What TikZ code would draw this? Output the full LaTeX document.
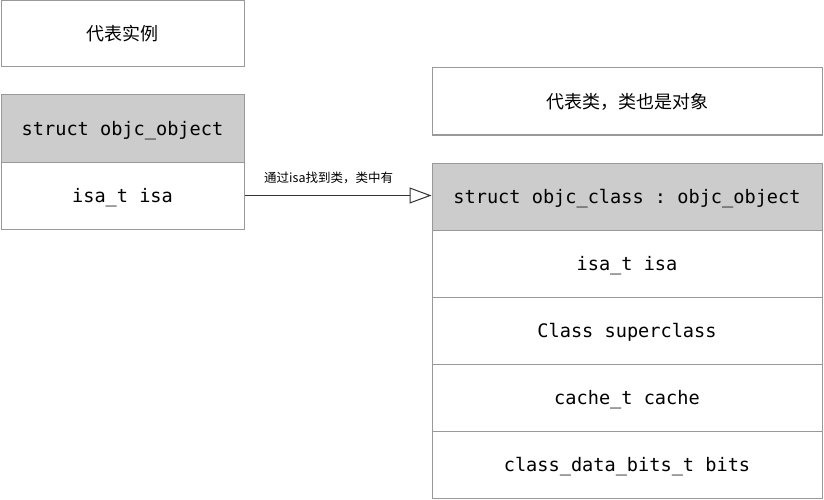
\documentclass[tikz,border=0pt]{standalone}
\usepackage{fontspec}
\setmainfont{Noto Sans CJK SC}
\setmonofont{DejaVu Sans Mono}
\newfontfamily\cjk{Noto Sans CJK SC}
\usetikzlibrary{arrows.meta}
\definecolor{bordergray}{HTML}{999999}
\definecolor{fillgray}{HTML}{CCCCCC}
\definecolor{linegray}{HTML}{333333}
\begin{document}
\begin{tikzpicture}[x=1pt,y=-1pt,
  box/.style={draw=bordergray, line width=1pt, fill=white, minimum height=67pt, inner sep=0pt, anchor=center},
  lbox/.style={box, minimum width=243pt},
  rbox/.style={box, minimum width=390pt},
  hdr/.style={fill=fillgray},
  mono/.style={font=\fontsize{18.6}{22}\ttfamily, text height=14pt, text depth=0pt},
  cn/.style={font=\fontsize{18}{22}\cjk},
  conn/.style={draw=linegray, line width=1pt, -{Triangle[open, length=22pt, width=16pt, line width=1pt]}}
]
\useasboundingbox (0,0) rectangle (824,500);
% left column
\node[lbox, cn, minimum height=66pt] (inst) at (122.5,34) {代表实例};
\node[lbox, hdr, mono] (obj) at (122.5,128.5) {struct objc\_object};
\node[lbox, mono] (objisa) at (122.5,195.5) {isa\_t isa};
% right column
\node[rbox, cn] (clsdesc) at (627,101.5) {代表类，类也是对象};
\node[rbox, hdr, mono] (cls) at (627,196.5) {struct objc\_class : objc\_object};
\node[rbox, mono] (clsisa) at (627,263.5) {isa\_t isa};
\node[rbox, mono] (super) at (627,330.5) {Class superclass};
\node[rbox, mono] (cache) at (627,397.5) {cache\_t cache};
\node[rbox, mono] (bits) at (627,464.5) {class\_data\_bits\_t bits};
% connector
\draw[conn] (objisa.east) -- (objisa.east -| cls.west)
  node[pos=0.45, above=8pt, font=\fontsize{12.5}{14}\cjk, text=black] (lbl) {通过isa找到类，类中有};
\end{tikzpicture}
\end{document}
